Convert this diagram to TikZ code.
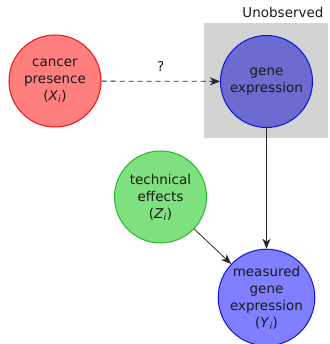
\documentclass[tikz,border=0pt]{standalone}
\usepackage{fontspec}
\setmainfont{DejaVu Sans}
\usetikzlibrary{arrows.meta}
\definecolor{redfill}{HTML}{FF7F7F}
\definecolor{redline}{HTML}{EE1111}
\definecolor{hidfill}{HTML}{6B6BD0}
\definecolor{bluefill}{HTML}{7F7FFF}
\definecolor{blueline}{HTML}{1111DD}
\definecolor{greenfill}{HTML}{7FE07F}
\definecolor{greenline}{HTML}{22BB22}
\definecolor{boxgray}{HTML}{D3D3D3}
\tikzset{
  var/.style={circle, draw, line width=1pt, minimum size=92pt, inner sep=0pt,
    align=center, font=\fontsize{13.5}{17}\selectfont, text=black!90},
  conn/.style={line width=0.8pt, draw=black!85, -{Stealth[length=10pt,width=8pt,inset=3pt]}},
}
\newcommand{\sub}[2]{(\textit{#1}\textsubscript{\textit{#2}})}
\begin{document}
\begin{tikzpicture}[x=1pt,y=-1pt]
\useasboundingbox (0,0) rectangle (329,344);
\fill[boxgray] (204,23) rectangle (328,138);
\node[anchor=base east, font=\fontsize{13.5}{17}\selectfont, text=black!90] (unobs) at (327,18) {Unobserved};
\node[var, fill=redfill, draw=redline] (x) at (55,81) {cancer\\presence\\\sub{X}{i}};
\node[var, fill=hidfill, draw=blueline] (g) at (266.5,81.5) {gene\\expression};
\node[var, fill=greenfill, draw=greenline] (z) at (160.5,197) {technical\\effects\\\sub{Z}{i}};
\node[var, fill=bluefill, draw=blueline] (y) at (266.5,297.5) {measured\\gene\\expression\\\sub{Y}{i}};
\draw[conn, dash pattern=on 5pt off 4pt] (x) -- node[above=6pt, font=\fontsize{13.5}{17}\selectfont, text=black!90] (q) {?} (g);
\draw[conn] (g) -- (y);
\draw[conn] (z) -- (y);
\end{tikzpicture}
\end{document}
